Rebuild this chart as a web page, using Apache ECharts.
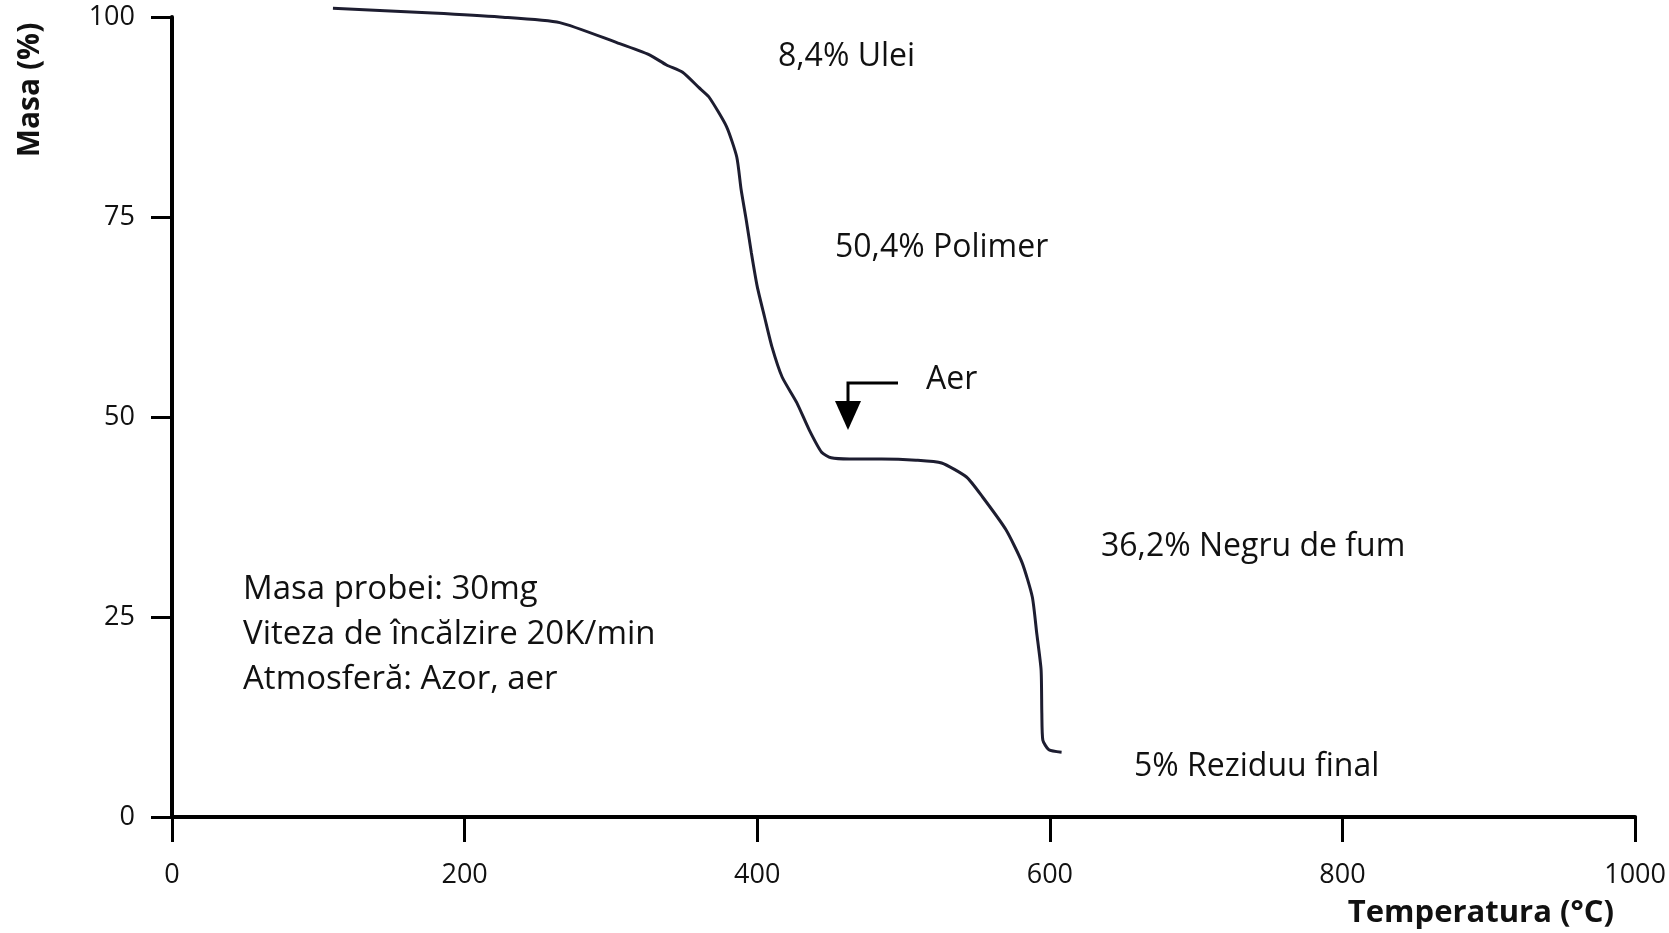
<!DOCTYPE html>
<html>
<head>
<meta charset="utf-8">
<title>Analiza termogravimetrică</title>
<script src="https://cdn.jsdelivr.net/npm/echarts@6/dist/echarts.min.js"></script>
<style>
  html, body { margin: 0; padding: 0; background: #fff; }
  #chart { width: 1669px; height: 933px; }
</style>
</head>
<body>
<div id="chart"></div>
<script>
// TGA curve: sample mass (%) versus temperature (°C)
const temperature = [
  110, 178, 224, 265, 304, 326, 338, 349, 360, 367, 379, 386, 389, 392.5, 396,
  400, 405, 410, 417, 427, 435.5, 444, 450.5, 463, 485, 508.5, 526, 543, 554,
  570, 581, 588, 591, 594, 594.5, 595.2, 599.3, 608
];
const mass = [
  101.1, 100.5, 100.0, 99.3, 96.8, 95.3, 94.0, 93.1, 91.2, 90.0, 86.3, 82.5, 78.4, 74.6, 70.5,
  66.3, 62.5, 58.8, 55.0, 51.8, 48.4, 45.6, 44.9, 44.75, 44.75, 44.6, 44.25, 42.5, 40.0,
  35.9, 31.8, 27.5, 23.0, 18.4, 13.0, 9.6, 8.4, 8.1
];

const xTicks = { min: 0, max: 1000, interval: 200 };
const yTicks = { min: 0, max: 100, interval: 25 };

const stepLabels = ['8,4% Ulei', '50,4% Polimer', '36,2% Negru de fum', '5% Reziduu final'];
const airLabel = 'Aer';
const infoLines = ['Masa probei: 30mg', 'Viteza de încălzire 20K/min', 'Atmosferă: Azor, aer'];
const xTitle = 'Temperatura (°C)';
const yTitle = 'Masa (%)';

const FONT = '"Open Sans", "DejaVu Sans", sans-serif';
const INK = '#111';

const curve = temperature.map((t, i) => [t, mass[i]]);

const chart = echarts.init(document.getElementById('chart'), null, { renderer: 'canvas' });

function annotation(text, x, y, size) {
  return {
    type: 'text',
    x: x,
    y: y,
    z: 10,
    style: {
      text: text,
      fill: INK,
      fontSize: size || 32,
      fontFamily: FONT,
      align: 'left',
      verticalAlign: 'middle'
    }
  };
}

chart.setOption({
  animation: false,
  backgroundColor: '#fff',
  grid: { left: 172, right: 32, top: 17, bottom: 116, containLabel: false },
  xAxis: {
    type: 'value',
    min: xTicks.min,
    max: xTicks.max,
    interval: xTicks.interval,
    splitLine: { show: false },
    axisLine: { show: true, onZero: false, lineStyle: { color: '#000', width: 4 } },
    axisTick: { show: true, length: 25, lineStyle: { color: '#000', width: 3 } },
    axisLabel: {
      color: INK, fontSize: 27, fontFamily: FONT, margin: 45,
      formatter: (v) => String(v)
    }
  },
  yAxis: {
    type: 'value',
    min: yTicks.min,
    max: yTicks.max,
    interval: yTicks.interval,
    splitLine: { show: false },
    axisLine: { show: true, onZero: false, lineStyle: { color: '#000', width: 4 } },
    axisTick: { show: true, length: 21, lineStyle: { color: '#000', width: 3 } },
    axisLabel: { color: INK, fontSize: 27, fontFamily: FONT, margin: 37 }
  },
  series: [{
    type: 'line',
    data: curve,
    showSymbol: false,
    smooth: 0.2,
    clip: false,
    lineStyle: { color: '#1d1d30', width: 3 },
    z: 5
  }],
  graphic: [
    annotation(stepLabels[0], 778, 57),
    annotation(stepLabels[1], 835, 248),
    annotation(stepLabels[2], 1101, 547),
    annotation(stepLabels[3], 1134, 767),
    annotation(airLabel, 926, 380),
    annotation(infoLines[0], 243, 590, 33),
    annotation(infoLines[1], 243, 635, 33),
    annotation(infoLines[2], 243, 680, 33),
    // arrow pointing at the switch to air
    {
      type: 'polyline',
      z: 10,
      shape: { points: [[898, 383], [848, 383], [848, 406]] },
      style: { stroke: '#000', lineWidth: 3, fill: null }
    },
    {
      type: 'polygon',
      z: 10,
      shape: { points: [[835, 401], [861, 401], [848, 430]] },
      style: { fill: '#000' }
    },
    // axis titles
    {
      type: 'text',
      x: 1614,
      y: 913,
      z: 10,
      style: {
        text: xTitle, fill: INK, fontSize: 31, fontWeight: 'bold', fontFamily: FONT,
        align: 'right', verticalAlign: 'middle'
      }
    },
    {
      type: 'text',
      x: 30,
      y: 90,
      rotation: Math.PI / 2,
      z: 10,
      style: {
        text: yTitle, fill: INK, fontSize: 30, fontWeight: 'bold', fontFamily: FONT,
        align: 'center', verticalAlign: 'middle'
      }
    }
  ]
});
</script>
</body>
</html>
